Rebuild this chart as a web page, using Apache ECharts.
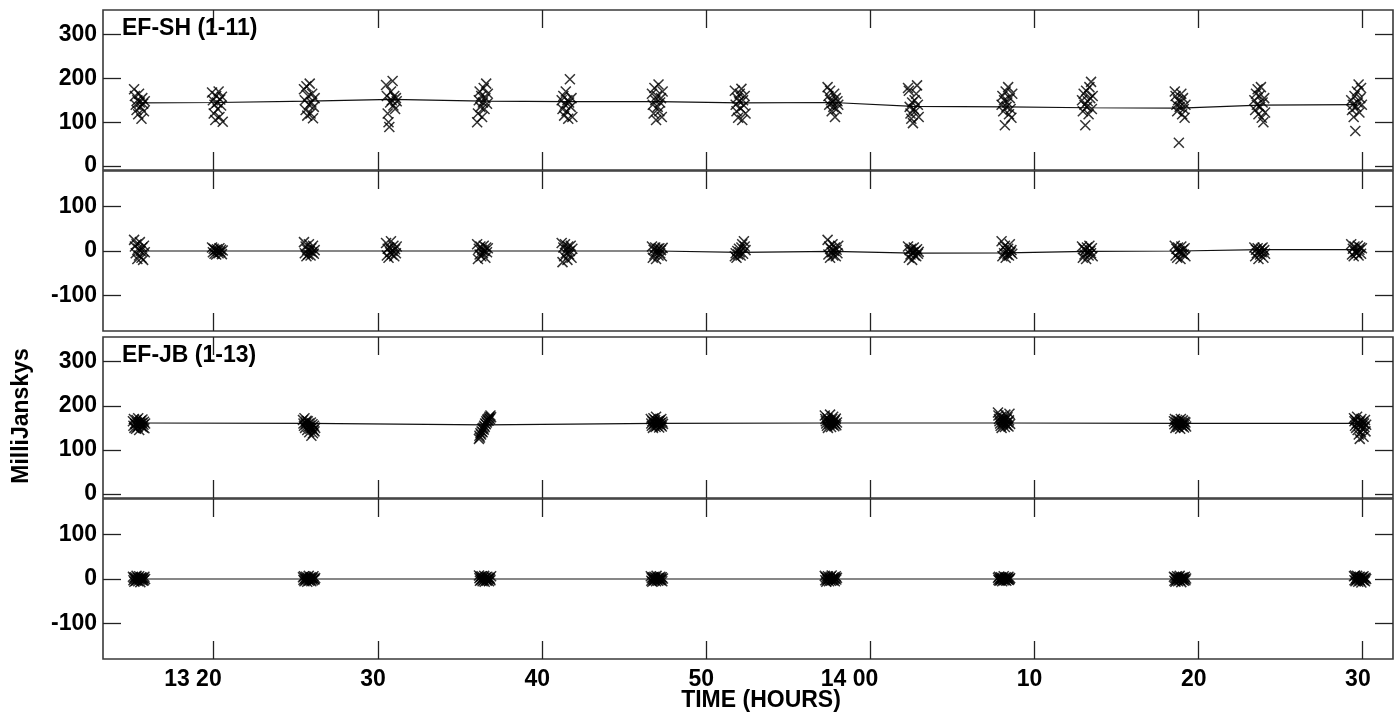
<!DOCTYPE html>
<html>
<head>
<meta charset="utf-8">
<script src="https://cdn.jsdelivr.net/npm/echarts@6/dist/echarts.min.js"></script>
<style>
html,body{margin:0;padding:0;background:#fff;}
#c{width:1394px;height:718px;}
</style>
</head>
<body>
<div id="c"></div>
<script>
// ---- time axis (minutes after 13:00) ----
const timeTickValues = [20, 30, 40, 50, 60, 70, 80, 90];
const timeTickLabels = ['13 20', '30', '40', '50', '14 00', '10', '20', '30'];
const timeMin = 13.256, timeMax = 91.846;

// ---- EF-SH (1-11) : scan times, amplitude (mJy), phase (deg) ----
const shTimes = [
 [15.15,15.2,15.25,15.3,15.35,15.4,15.45,15.5,15.55,15.6,15.65,15.7,15.75,15.8],
 [19.9,19.95,20.0,20.05,20.1,20.15,20.2,20.25,20.3,20.35,20.4,20.45,20.5,20.55],
 [25.5,25.55,25.6,25.65,25.7,25.75,25.8,25.85,25.9,25.95,26.0,26.05,26.1,26.15],
 [30.5,30.55,30.6,30.65,30.7,30.75,30.8,30.85,30.9,30.95,31.0,31.05,31.1,31.15],
 [36.05,36.1,36.15,36.2,36.25,36.3,36.35,36.4,36.45,36.5,36.55,36.6,36.65,36.7],
 [41.2,41.25,41.3,41.35,41.4,41.45,41.5,41.55,41.6,41.65,41.7,41.75,41.8,41.85],
 [46.7,46.75,46.8,46.85,46.9,46.95,47.0,47.05,47.1,47.15,47.2,47.25,47.3,47.35],
 [51.75,51.8,51.85,51.9,51.95,52.0,52.05,52.1,52.15,52.2,52.25,52.3,52.35,52.4],
 [57.4,57.45,57.5,57.55,57.6,57.65,57.7,57.75,57.8,57.85,57.9,57.95,58.0,58.05],
 [62.3,62.35,62.4,62.45,62.5,62.55,62.6,62.65,62.7,62.75,62.8,62.85,62.9,62.95],
 [68.0,68.05,68.1,68.15,68.2,68.25,68.3,68.35,68.4,68.45,68.5,68.55,68.6,68.65],
 [72.9,72.95,73.0,73.05,73.1,73.15,73.2,73.25,73.3,73.35,73.4,73.45,73.5,73.55],
 [78.55,78.6,78.65,78.7,78.75,78.8,78.85,78.9,78.95,79.0,79.05,79.1,79.15,79.2],
 [83.4,83.45,83.5,83.55,83.6,83.65,83.7,83.75,83.8,83.85,83.9,83.95,84.0,84.05],
 [89.3,89.35,89.4,89.45,89.5,89.55,89.6,89.65,89.7,89.75,89.8,89.85,89.9,89.95]
];
const shAmp = [
 [175,160,140,128,150,118,165,145,135,108,155,142,125,148],
 [168,150,120,140,105,160,145,130,170,112,152,138,158,101],
 [175,150,128,182,115,160,140,188,120,145,165,109,135,155],
 [185,160,120,100,89,145,170,150,194,138,160,130,155,148],
 [100,120,150,170,135,160,112,145,178,130,155,188,142,165],
 [150,130,160,115,140,170,125,150,108,145,198,135,155,112],
 [165,140,120,178,150,105,160,135,186,125,145,155,112,170],
 [172,140,125,155,110,148,165,132,176,105,150,138,160,120],
 [180,160,140,172,150,125,145,135,165,112,155,130,148,140],
 [178,172,135,120,108,145,98,130,150,125,165,184,140,112],
 [140,160,125,150,93,170,135,145,180,118,155,130,110,165],
 [150,125,165,140,93,172,135,148,118,180,155,192,130,160],
 [170,160,140,125,150,53,135,145,165,118,155,130,110,140],
 [150,128,165,140,175,118,160,135,180,110,145,100,155,122],
 [150,128,140,112,160,80,135,170,145,186,122,155,178,140]
];
const shPhase = [
 [25,10,-5,15,-18,5,-10,20,0,-15,8,-20,12,-3],
 [8,-3,5,-6,2,-8,4,0,-5,6,-2,3,-7,1],
 [20,-5,10,-12,3,-8,15,0,-10,6,-3,12,-6,2],
 [18,-10,5,-15,8,-3,22,-8,0,12,-12,4,-5,10],
 [15,-18,5,-8,10,-12,3,-5,12,0,-15,8,-3,6],
 [18,-25,8,-12,15,-5,3,-20,10,-8,0,12,-15,5],
 [10,-15,3,-8,8,-18,0,5,-10,6,-5,2,-12,7],
 [-12,-5,-15,0,-8,5,-3,-10,8,15,-6,22,10,2],
 [25,-8,10,-15,5,-3,15,-10,0,8,-12,3,-5,12],
 [10,-15,2,-8,5,-20,-3,8,-10,0,-12,4,-6,-2],
 [22,-12,8,-5,12,-15,0,-8,5,-10,15,-3,2,-6],
 [10,-15,5,-8,2,-18,8,-3,-10,12,0,-5,6,-12],
 [12,-10,5,-15,8,-3,0,-18,10,-6,3,-8,6,-12],
 [8,-12,3,-5,6,-18,0,-8,5,-3,8,-15,2,-6],
 [15,-8,5,-12,10,-3,0,-5,12,-10,3,8,-6,6]
];
const shScanCentres = [15.45,20.2,25.81,30.86,36.41,41.53,47.07,52.07,57.73,62.6,68.33,73.2,78.87,83.74,89.65];
const shAmpMean = [144,145,148,152,148,147,147,144,145,136,135,133,132,139,140];
const shPhaseMean = [0,0,0,0,0,0,0,-3,-1,-5,-4,-1,0,3,3];

// ---- EF-JB (1-13) ----
const jbTimes = [
 [15.08,15.11,15.14,15.17,15.21,15.24,15.27,15.3,15.34,15.37,15.4,15.43,15.46,15.5,15.53,15.56,15.59,15.62,15.66,15.69,15.72,15.75,15.78,15.82],
 [25.44,25.47,25.5,25.53,25.57,25.6,25.63,25.66,25.7,25.73,25.76,25.79,25.82,25.86,25.89,25.92,25.95,25.98,26.02,26.05,26.08,26.11,26.14,26.18],
 [36.16,36.19,36.22,36.25,36.29,36.32,36.35,36.38,36.42,36.45,36.48,36.51,36.54,36.58,36.61,36.64,36.67,36.7,36.74,36.77,36.8,36.83,36.86,36.9],
 [46.63,46.66,46.69,46.72,46.76,46.79,46.82,46.85,46.89,46.92,46.95,46.98,47.01,47.05,47.08,47.11,47.14,47.17,47.21,47.24,47.27,47.3,47.33,47.37],
 [57.23,57.26,57.29,57.32,57.36,57.39,57.42,57.45,57.49,57.52,57.55,57.58,57.61,57.65,57.68,57.71,57.74,57.77,57.81,57.84,57.87,57.9,57.93,57.97],
 [67.78,67.81,67.84,67.87,67.91,67.94,67.97,68.0,68.04,68.07,68.1,68.13,68.16,68.2,68.23,68.26,68.29,68.32,68.36,68.39,68.42,68.45,68.48,68.52],
 [78.5,78.53,78.56,78.59,78.63,78.66,78.69,78.72,78.76,78.79,78.82,78.85,78.88,78.92,78.95,78.98,79.01,79.04,79.08,79.11,79.14,79.17,79.2,79.24],
 [89.47,89.5,89.53,89.56,89.6,89.63,89.66,89.69,89.73,89.76,89.79,89.82,89.85,89.89,89.92,89.95,89.98,90.01,90.05,90.08,90.11,90.14,90.17,90.21]
];
const jbAmp = [
 [165,155,170,150,160,158,148,168,162,152,172,156,145,163,159,166,154,161,169,151,157,164,149,160],
 [168,160,155,172,150,162,158,166,145,165,152,160,140,155,148,162,132,150,158,138,145,155,142,150],
 [125,132,128,138,135,142,148,140,150,146,155,152,160,158,165,162,168,170,166,172,175,170,178,174],
 [170,160,155,165,150,172,158,162,168,152,175,160,155,165,158,163,151,167,161,156,170,153,164,159],
 [178,170,165,160,155,172,150,168,162,158,180,165,152,160,170,157,175,163,154,167,159,171,156,162],
 [185,178,170,165,160,155,175,150,168,162,158,172,165,152,180,160,170,156,174,163,153,167,182,159],
 [165,158,170,150,162,155,168,160,152,166,158,163,148,170,156,161,154,167,159,151,164,157,162,153],
 [172,165,155,168,150,160,175,145,162,135,158,125,165,140,170,155,148,163,130,160,152,168,142,157]
];
const jbPhase = [
 [5,-3,2,-6,4,0,-4,7,-2,3,-5,1,6,-1,-7,2,4,-2,3,-4,1,-3,5,0],
 [4,-2,6,-5,1,-3,5,0,-6,3,-1,7,-4,2,-2,4,-5,1,3,-3,6,0,-1,2],
 [8,2,-4,5,-2,6,0,-5,3,-3,7,-6,1,4,-2,-4,5,-1,2,-5,3,0,-3,6],
 [6,-4,2,-6,4,0,-3,5,-2,3,-5,7,-1,2,-4,1,3,-2,5,-3,0,4,-5,1],
 [7,-3,4,-6,2,-2,6,0,-5,3,-1,5,-4,8,-2,1,-3,4,0,-5,2,6,-1,3],
 [3,-2,5,-4,1,-3,4,0,-5,2,-1,6,-3,2,-2,4,-4,1,3,-1,5,-2,0,2],
 [5,-4,3,-6,2,-2,6,0,-5,4,-1,7,-3,2,-7,1,3,-2,4,-4,0,5,-3,1],
 [6,-3,8,-5,2,-2,7,0,-6,4,-1,5,-4,3,-8,2,4,-2,6,-3,1,-5,3,0]
];
const jbScanCentres = [15.45,25.81,36.53,47.0,57.6,68.15,78.87,89.84];
const jbAmpMean = [161,160,157,160,161,161,160,160];
const jbPhaseMean = [0,0,0,0,0,0,0,0];

const ampTickValues = [0, 100, 200, 300];
const phaseTickValues = [-100, 0, 100];

// ---------------------------------------------------------------
function pairs(times, vals) {
  const out = [];
  for (let c = 0; c < times.length; c++)
    for (let i = 0; i < times[c].length; i++) out.push([times[c][i], vals[c][i]]);
  return out;
}
function zip(a, b) { return a.map((v, i) => [v, b[i]]); }

const FONT = '"Liberation Sans", Arial, Helvetica, sans-serif';
const panels = [
  { top: 10,  height: 160, min: -9,   max: 356, ticks: ampTickValues,   pts: pairs(shTimes, shAmp),   line: zip(shScanCentres, shAmpMean) },
  { top: 171, height: 160, min: -180, max: 180, ticks: phaseTickValues, pts: pairs(shTimes, shPhase), line: zip(shScanCentres, shPhaseMean) },
  { top: 337, height: 161, min: -9,   max: 356, ticks: ampTickValues,   pts: pairs(jbTimes, jbAmp),   line: zip(jbScanCentres, jbAmpMean) },
  { top: 499, height: 160, min: -180, max: 180, ticks: phaseTickValues, pts: pairs(jbTimes, jbPhase), line: zip(jbScanCentres, jbPhaseMean) }
];

const grids = [], xAxes = [], yAxes = [], series = [];
const tickStyle = { color: '#222', width: 1.3 };
panels.forEach((p, i) => {
  grids.push({ left: 103, width: 1290, top: p.top, height: p.height, show: true,
               borderColor: '#3a3a3a', borderWidth: 1.6, backgroundColor: 'transparent' });
  ['bottom', 'top'].forEach(pos => xAxes.push({
    gridIndex: i, type: 'value', position: pos, min: timeMin, max: timeMax,
    axisLine: { show: false, onZero: false }, splitLine: { show: false }, axisLabel: { show: false },
    axisTick: { show: true, inside: true, length: 18, customValues: timeTickValues, lineStyle: tickStyle }
  }));
  ['left', 'right'].forEach(pos => yAxes.push({
    gridIndex: i, type: 'value', position: pos, min: p.min, max: p.max,
    axisLine: { show: false, onZero: false }, splitLine: { show: false },
    axisTick: { show: true, inside: true, length: 18, customValues: p.ticks, lineStyle: tickStyle },
    axisLabel: pos === 'left' ? { show: true, customValues: p.ticks, margin: 6, color: '#000',
                 fontSize: 23, fontWeight: 'bold', fontFamily: FONT } : { show: false }
  }));
  series.push({
    type: 'scatter', xAxisIndex: 2 * i, yAxisIndex: 2 * i, data: p.pts,
    symbol: 'path://M0,0L10,10M10,0L0,10', symbolSize: 10,
    itemStyle: { color: 'rgba(0,0,0,0)', borderColor: '#000', borderWidth: 1.5 },
    silent: true, z: 3
  });
  series.push({
    type: 'line', xAxisIndex: 2 * i, yAxisIndex: 2 * i, data: p.line,
    symbol: 'none', lineStyle: { color: '#111', width: 1.2 }, silent: true, z: 2
  });
});
// label-only axis for time labels, shifted so the label's right edge sits just right of each tick
const shift = 8 / (1290 / (timeMax - timeMin));
xAxes.push({
  gridIndex: 3, type: 'value', position: 'bottom', min: timeMin - shift, max: timeMax - shift,
  axisLine: { show: false, onZero: false }, splitLine: { show: false }, axisTick: { show: false },
  axisLabel: { show: true, customValues: timeTickValues, align: 'right', margin: 9,
               color: '#000', fontSize: 23, fontWeight: 'bold', fontFamily: FONT,
               formatter: v => { const k = timeTickValues.indexOf(Math.round(v)); return k >= 0 ? timeTickLabels[k] : ''; } }
});

const chart = echarts.init(document.getElementById('c'), null, { renderer: 'canvas' });
chart.setOption({
  animation: false,
  backgroundColor: '#fff',
  grid: grids, xAxis: xAxes, yAxis: yAxes, series: series,
  graphic: [
    { type: 'text', x: 122, y: 29, style: { text: 'EF-SH (1-11)', fill: '#000', font: 'bold 23px ' + FONT, textVerticalAlign: 'middle' }, z: 10 },
    { type: 'text', x: 122, y: 356, style: { text: 'EF-JB (1-13)', fill: '#000', font: 'bold 23px ' + FONT, textVerticalAlign: 'middle' }, z: 10 },
    { type: 'text', x: 22, y: 416, rotation: Math.PI / 2, style: { text: 'MilliJanskys', fill: '#000', font: 'bold 23px ' + FONT, textAlign: 'center', textVerticalAlign: 'middle' } },
    { type: 'text', x: 761, y: 701, style: { text: 'TIME (HOURS)', fill: '#000', font: 'bold 23px ' + FONT, textAlign: 'center', textVerticalAlign: 'middle' } }
  ]
});
</script>
</body>
</html>
